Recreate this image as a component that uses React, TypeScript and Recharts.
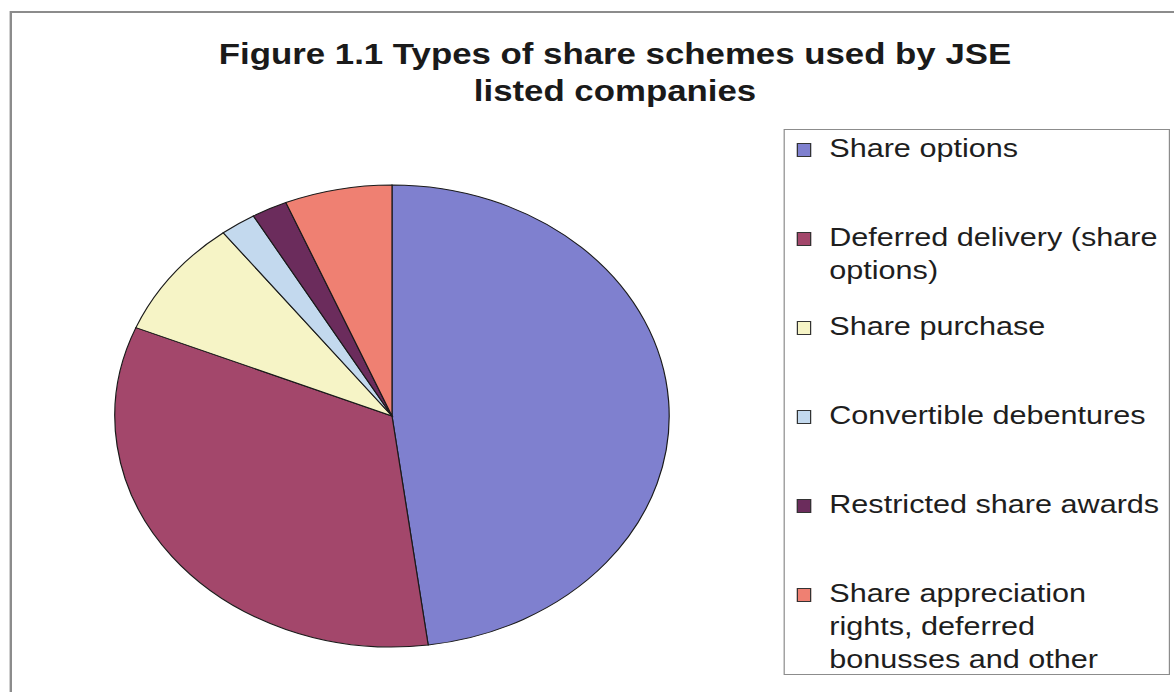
import { PieChart, Pie, Cell, Legend } from "recharts"

// JSE listed companies by type of share scheme (counts)
const categories = [
  "Share options",
  "Deferred delivery (share options)",
  "Share purchase",
  "Convertible debentures",
  "Restricted share awards",
  "Share appreciation rights, deferred bonusses and other",
]
const companies = [23, 16, 4, 1, 1, 3]
const colors = ["#7f80cf", "#a3476b", "#f6f4c6", "#c3d9ee", "#6b2c5c", "#ef8072"]
const title = "Figure 1.1 Types of share schemes used by JSE listed companies"

// the original picture is stretched sideways, so the whole chart is drawn narrow and scaled
const STRETCH = 1.2
const W = 1174 / STRETCH
const H = 692
const FONT = "Arial, 'Liberation Sans', Helvetica, sans-serif"

const data = categories.map((name, i) => ({ name, value: companies[i] }))

function SchemeLegend() {
  return (
    <div style={{ position: "relative", width: "100%", height: "100%", fontFamily: FONT }}>
      {categories.map((name, i) => (
        <div key={name} style={{ position: "absolute", left: 0, top: 2 + i * 89, width: "100%" }}>
          <span
            style={{
              position: "absolute",
              left: 10,
              top: 11,
              width: 14 / STRETCH,
              height: 14,
              background: colors[i],
              border: "1px solid #333",
              boxSizing: "border-box",
            }}
          />
          <div style={{ marginLeft: 36.7, width: 280, fontSize: 25.5, lineHeight: "33px", color: "#1e1e1e" }}>
            {name}
          </div>
        </div>
      ))}
    </div>
  )
}

export default function App() {
  return (
    <div
      style={{
        position: "absolute",
        left: 0,
        top: 0,
        width: 1174,
        height: 692,
        overflow: "hidden",
        background: "#fff",
      }}
    >
      <div
        style={{
          position: "relative",
          width: W,
          height: H,
          transform: `scaleX(${STRETCH})`,
          transformOrigin: "0 0",
        }}
      >
        <div
          style={{
            position: "absolute",
            left: 7.5,
            top: 11,
            width: 1200,
            height: 720,
            border: "2px solid #8c8c8c",
          }}
        />
        <div
          style={{
            position: "absolute",
            left: 172.5,
            top: 35.5,
            width: 680,
            textAlign: "center",
            fontFamily: FONT,
            fontWeight: "bold",
            fontSize: 29,
            lineHeight: "37px",
            color: "#1a1a1a",
          }}
        >
          {title}
        </div>
        <div style={{ position: "absolute", left: 0, top: 0 }}>
          <PieChart width={W} height={H} margin={{ top: 0, right: 0, bottom: 0, left: 0 }}>
            <Pie
              data={data}
              dataKey="value"
              nameKey="name"
              cx={392 / STRETCH}
              cy={416}
              outerRadius={231}
              startAngle={90}
              endAngle={-270}
              stroke="#1a1a1a"
              strokeWidth={1}
              label={false}
              labelLine={false}
              isAnimationActive={false}
            >
              {data.map((d, i) => (
                <Cell key={d.name} fill={colors[i]} />
              ))}
            </Pie>
            <Legend
              layout="vertical"
              align="right"
              verticalAlign="top"
              content={() => <SchemeLegend />}
              wrapperStyle={{
                position: "absolute",
                left: 784 / STRETCH,
                top: 129,
                width: 386 / STRETCH,
                height: 546,
                border: "1.5px solid #8c8c8c",
                boxSizing: "border-box",
                background: "#fff",
                margin: 0,
                padding: 0,
              }}
            />
          </PieChart>
        </div>
      </div>
    </div>
  )
}
